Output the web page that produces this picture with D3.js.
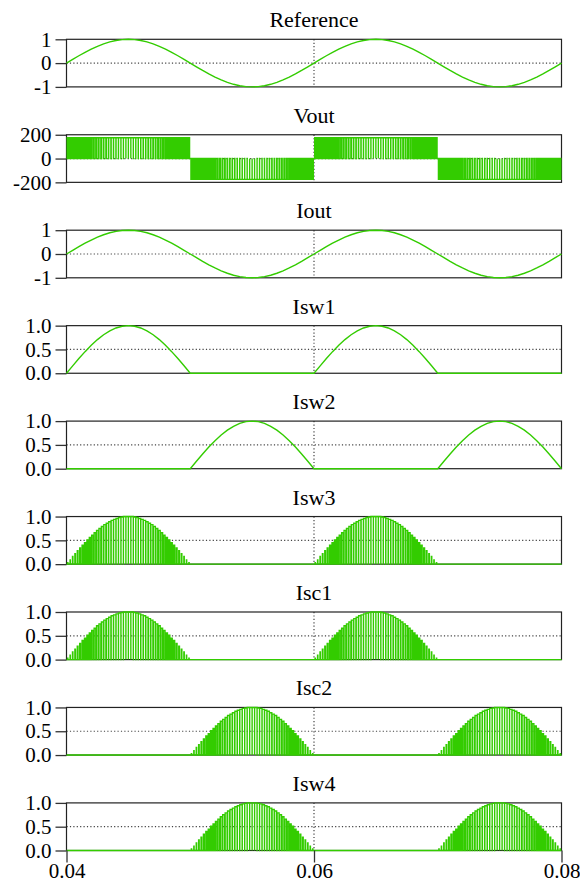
<!DOCTYPE html>
<html>
<head>
<meta charset="utf-8">
<script src="https://cdn.jsdelivr.net/npm/d3@7"></script>
<style>
  html, body { margin: 0; padding: 0; background: #fff; }
  svg { display: block; }
  text { font-family: "Liberation Serif", "Times New Roman", serif; fill: #000; }
</style>
</head>
<body>
<svg id="chart" width="580" height="883"></svg>
<script>
// Time window shown on every panel (seconds)
const timeDomain = [0.04, 0.08];
const timeTicks = [0.04, 0.06, 0.08];

// Smooth waveforms sampled every 0.5 ms from 0.04 s to 0.08 s
const refWave = [
  0, .156, .309, .454, .588, .707, .809, .891, .951, .988, 1, .988, .951, .891, .809, .707, .588, .454, .309, .156,
  0, -.156, -.309, -.454, -.588, -.707, -.809, -.891, -.951, -.988, -1, -.988, -.951, -.891, -.809, -.707, -.588, -.454, -.309, -.156,
  0, .156, .309, .454, .588, .707, .809, .891, .951, .988, 1, .988, .951, .891, .809, .707, .588, .454, .309, .156,
  0, -.156, -.309, -.454, -.588, -.707, -.809, -.891, -.951, -.988, -1, -.988, -.951, -.891, -.809, -.707, -.588, -.454, -.309, -.156,
  0
];
const ioutWave = [
  0, .156, .309, .454, .588, .707, .809, .891, .951, .988, 1, .988, .951, .891, .809, .707, .588, .454, .309, .156,
  0, -.156, -.309, -.454, -.588, -.707, -.809, -.891, -.951, -.988, -1, -.988, -.951, -.891, -.809, -.707, -.588, -.454, -.309, -.156,
  0, .156, .309, .454, .588, .707, .809, .891, .951, .988, 1, .988, .951, .891, .809, .707, .588, .454, .309, .156,
  0, -.156, -.309, -.454, -.588, -.707, -.809, -.891, -.951, -.988, -1, -.988, -.951, -.891, -.809, -.707, -.588, -.454, -.309, -.156,
  0
];
const isw1Wave = [
  0, .156, .309, .454, .588, .707, .809, .891, .951, .988, 1, .988, .951, .891, .809, .707, .588, .454, .309, .156,
  0, 0, 0, 0, 0, 0, 0, 0, 0, 0, 0, 0, 0, 0, 0, 0, 0, 0, 0, 0,
  0, .156, .309, .454, .588, .707, .809, .891, .951, .988, 1, .988, .951, .891, .809, .707, .588, .454, .309, .156,
  0, 0, 0, 0, 0, 0, 0, 0, 0, 0, 0, 0, 0, 0, 0, 0, 0, 0, 0, 0,
  0
];
const isw2Wave = [
  0, 0, 0, 0, 0, 0, 0, 0, 0, 0, 0, 0, 0, 0, 0, 0, 0, 0, 0, 0,
  0, .156, .309, .454, .588, .707, .809, .891, .951, .988, 1, .988, .951, .891, .809, .707, .588, .454, .309, .156,
  0, 0, 0, 0, 0, 0, 0, 0, 0, 0, 0, 0, 0, 0, 0, 0, 0, 0, 0, 0,
  0, .156, .309, .454, .588, .707, .809, .891, .951, .988, 1, .988, .951, .891, .809, .707, .588, .454, .309, .156,
  0
];
const smoothStep = 0.0005;

// Load current at each 0.2 ms switching period (signed, per unit)
const switchPeriod = 0.0002;
const periodCurrent = [
  .03, .09, .16, .22, .28, .34, .40, .45, .51, .56, .61, .66, .71, .75, .79, .83, .86, .89, .92, .94, .96, .98, .99, 1, 1,
  1, 1, .99, .98, .96, .94, .92, .89, .86, .83, .79, .75, .71, .66, .61, .56, .51, .45, .40, .34, .28, .22, .16, .09, .03,
  -.03, -.09, -.16, -.22, -.28, -.34, -.40, -.45, -.51, -.56, -.61, -.66, -.71, -.75, -.79, -.83, -.86, -.89, -.92, -.94, -.96, -.98, -.99, -1, -1,
  -1, -1, -.99, -.98, -.96, -.94, -.92, -.89, -.86, -.83, -.79, -.75, -.71, -.66, -.61, -.56, -.51, -.45, -.40, -.34, -.28, -.22, -.16, -.09, -.03,
  .03, .09, .16, .22, .28, .34, .40, .45, .51, .56, .61, .66, .71, .75, .79, .83, .86, .89, .92, .94, .96, .98, .99, 1, 1,
  1, 1, .99, .98, .96, .94, .92, .89, .86, .83, .79, .75, .71, .66, .61, .56, .51, .45, .40, .34, .28, .22, .16, .09, .03,
  -.03, -.09, -.16, -.22, -.28, -.34, -.40, -.45, -.51, -.56, -.61, -.66, -.71, -.75, -.79, -.83, -.86, -.89, -.92, -.94, -.96, -.98, -.99, -1, -1,
  -1, -1, -.99, -.98, -.96, -.94, -.92, -.89, -.86, -.83, -.79, -.75, -.71, -.66, -.61, -.56, -.51, -.45, -.40, -.34, -.28, -.22, -.16, -.09, -.03
];
// DC link voltage seen on the output during each pulse
const busVoltage = 175;

// Panel titles, in order from top to bottom
const panelTitles = ["Reference", "Vout", "Iout", "Isw1", "Isw2", "Isw3", "Isc1", "Isc2", "Isw4"];
// Y-axis ticks
const bipolarTicks = [-1, 0, 1];
const voltTicks = [-200, 0, 200];
const unitTicks = [0, 0.5, 1];

// ---- helpers that turn the sampled data into polylines ----
function smoothPoints(values) {
  return values.map((v, i) => [timeDomain[0] + i * smoothStep, v]);
}
// One pulse per switching period: height from the level, width from the duty
function pulsePoints(levels, duties) {
  const pts = [];
  levels.forEach((lv, k) => {
    const t0 = timeDomain[0] + k * switchPeriod;
    const d = duties[k];
    const ta = t0 + (1 - d) / 2 * switchPeriod;
    const tb = t0 + (1 + d) / 2 * switchPeriod;
    pts.push([t0, 0], [ta, 0], [ta, lv], [tb, lv], [tb, 0]);
  });
  pts.push([timeDomain[1], 0]);
  return pts;
}
const duty = periodCurrent.map(Math.abs);
const posPart = periodCurrent.map(v => Math.max(v, 0));
const negPart = periodCurrent.map(v => Math.max(-v, 0));
const posDuty = posPart.map(v => v > 0 ? Math.max(v, 0.12) : 0);
const negDuty = negPart.map(v => v > 0 ? Math.max(v, 0.12) : 0);
const voutLevels = periodCurrent.map(v => Math.sign(v) * busVoltage);
const voutDuty = duty.map(v => Math.max(v, 0.45));

const fmtInt = d => d < 0 ? "-" + Math.abs(d) : String(d);
const fmt1 = d3.format(".1f");

const panels = [
  { pts: smoothPoints(refWave), y: [-1, 1], ticks: bipolarTicks, fmt: fmtInt, grid: 0 },
  { pts: pulsePoints(voutLevels, voutDuty), y: [-200, 200], ticks: voltTicks, fmt: fmtInt, grid: 0 },
  { pts: smoothPoints(ioutWave), y: [-1, 1], ticks: bipolarTicks, fmt: fmtInt, grid: 0 },
  { pts: smoothPoints(isw1Wave), y: [0, 1], ticks: unitTicks, fmt: fmt1, grid: 0.5 },
  { pts: smoothPoints(isw2Wave), y: [0, 1], ticks: unitTicks, fmt: fmt1, grid: 0.5 },
  { pts: pulsePoints(posPart, posDuty), y: [0, 1], ticks: unitTicks, fmt: fmt1, grid: 0.5 },
  { pts: pulsePoints(posPart, posDuty), y: [0, 1], ticks: unitTicks, fmt: fmt1, grid: 0.5 },
  { pts: pulsePoints(negPart, negDuty), y: [0, 1], ticks: unitTicks, fmt: fmt1, grid: 0.5 },
  { pts: pulsePoints(negPart, negDuty), y: [0, 1], ticks: unitTicks, fmt: fmt1, grid: 0.5 }
].map((p, i) => Object.assign(p, { title: panelTitles[i] }));

// ---- layout ----
const plotLeft = 66.5, plotRight = 561.5;
const firstTop = 39.3, panelStep = 95.45, panelHeight = 47.6;
const green = "#33cc00";

const svg = d3.select("#chart");
const x = d3.scaleLinear().domain(timeDomain).range([plotLeft, plotRight]);

panels.forEach((p, i) => {
  const top = firstTop + i * panelStep;
  const y = d3.scaleLinear().domain(p.y).range([top + panelHeight, top]);
  const g = svg.append("g");

  // title
  g.append("text")
    .attr("x", (plotLeft + plotRight) / 2)
    .attr("y", top - 12)
    .attr("text-anchor", "middle")
    .style("font-size", "22px")
    .text(p.title);

  // dotted reference lines
  g.append("line")
    .attr("x1", plotLeft).attr("x2", plotRight)
    .attr("y1", y(p.grid)).attr("y2", y(p.grid))
    .attr("stroke", "#444").attr("stroke-width", 1.2)
    .attr("stroke-dasharray", "1.2,2.2");
  g.append("line")
    .attr("x1", x(0.06)).attr("x2", x(0.06))
    .attr("y1", top).attr("y2", top + panelHeight)
    .attr("stroke", "#444").attr("stroke-width", 1.2)
    .attr("stroke-dasharray", "1.2,2.2");

  // y axis
  const yAxis = d3.axisLeft(y).tickValues(p.ticks).tickFormat(p.fmt)
    .tickSize(11).tickPadding(4);
  const ya = g.append("g").attr("transform", `translate(${plotLeft},0)`).call(yAxis);
  ya.select(".domain").remove();
  ya.selectAll(".tick line").attr("stroke", "#333").attr("stroke-width", 1.3);
  ya.selectAll(".tick text")
    .style("font-family", '"Liberation Serif", serif')
    .style("font-size", "21px").attr("fill", "#000");

  // frame
  g.append("rect")
    .attr("x", plotLeft).attr("y", top)
    .attr("width", plotRight - plotLeft).attr("height", panelHeight)
    .attr("fill", "none").attr("stroke", "#222").attr("stroke-width", 1.2);

  // trace
  const line = d3.line().x(d => x(d[0])).y(d => y(d[1]));
  g.append("path")
    .attr("d", line(p.pts))
    .attr("fill", "none")
    .attr("stroke", green)
    .attr("stroke-width", 1.4)
    .attr("stroke-linejoin", "miter");

  // time axis under the last panel
  if (i === panels.length - 1) {
    const xAxis = d3.axisBottom(x).tickValues(timeTicks).tickFormat(d3.format(".2f"))
      .tickSize(12).tickPadding(1);
    const xa = g.append("g").attr("transform", `translate(0,${top + panelHeight})`).call(xAxis);
    xa.select(".domain").remove();
    xa.selectAll(".tick line").attr("stroke", "#333").attr("stroke-width", 1.3);
    xa.selectAll(".tick text")
      .style("font-family", '"Liberation Serif", serif')
      .style("font-size", "21px").attr("fill", "#000");
  }
});
</script>
</body>
</html>
